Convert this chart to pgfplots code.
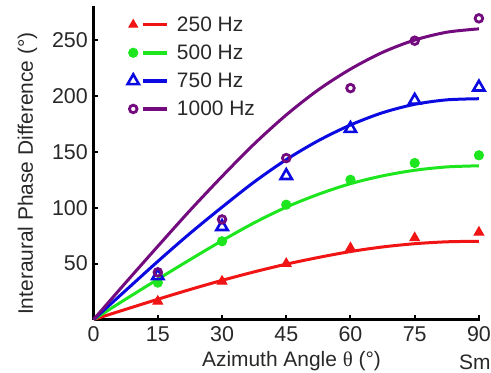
\documentclass[border=0pt]{standalone}
\usepackage{fontspec}
\setmainfont{Liberation Sans}
\newfontfamily\serifgreek{Liberation Serif}
\usepackage{pgfplots}
\pgfplotsset{compat=1.18}
\definecolor{cred}{RGB}{240,20,20}
\definecolor{cgreen}{RGB}{30,230,30}
\definecolor{cblue}{RGB}{10,10,225}
\definecolor{cpurple}{RGB}{115,10,125}
\definecolor{ctext}{RGB}{40,40,40}
\begin{document}
\begin{tikzpicture}
\begin{axis}[
  scale only axis, width=386.6bp, height=313bp,
  xmin=0, xmax=90.3, ymin=0, ymax=280,
  axis x line=bottom, axis y line=left,
  axis line style={-, line width=3bp, black},
  every outer x axis line/.append style={-},
  every outer y axis line/.append style={-},
  xtick={0,15,30,45,60,75,90}, ytick={50,100,150,200,250},
  tick align=inside, major tick length=4.5bp,
  every tick/.style={black, line width=2bp},
  /pgf/number format/assume math mode=true,
  ticklabel style={font=\fontsize{21.5}{25}\selectfont, text=ctext},
  xticklabel style={inner sep=0pt, yshift=-7bp},
  yticklabel style={inner sep=0pt, xshift=-5.6bp},
  xlabel={Azimuth Angle {\serifgreek θ} (°)},
  ylabel={Interaural Phase Difference (°)},
  label style={font=\fontsize{21}{25}\selectfont, text=ctext},
  xlabel style={at={(axis description cs:0.512,-0.1508)}, anchor=base},
  ylabel style={at={(axis description cs:-0.1568,0.466)}, anchor=base},
  clip=false,
  legend cell align=left,
  legend image code/.code={
    \draw[#1, only marks] plot coordinates {(0bp,0bp)};
    \draw[#1, mark=none, line width=3.5bp] (10bp,0bp) -- (34bp,0bp);
  },
  legend style={draw=none, fill=none, inner sep=0pt, outer sep=0pt,
    at={(axis description cs:0.088,0.974)}, anchor=north west,
    font=\fontsize{21}{25}\selectfont, text=ctext, row sep=8bp,
    /tikz/every odd column/.append style={column sep=6bp}},
]
% fitted curves
\addplot[cred, line width=3bp, smooth, forget plot] coordinates {
(0,0) (7.5,9.1) (15,18.1) (22.5,26.8) (30,35) (37.5,42.6) (45,49.5) (52.5,55.5) (60,60.8) (67.5,64.9) (75,67.8) (82.5,69.5) (90,70)};
\addplot[cgreen, line width=3bp, smooth, forget plot] coordinates {
(0,0) (7.5,18.2) (15,36) (22.5,53.5) (30,70.5) (37.5,86.5) (45,100.5) (52.5,112) (60,121.5) (67.5,128.5) (75,133.5) (82.5,136.5) (90,137.5)};
\addplot[cblue, line width=3bp, smooth, forget plot] coordinates {
(0,0) (7.5,26) (15,52) (22.5,77) (30,100.5) (37.5,123) (45,143) (52.5,160) (60,174) (67.5,185) (75,192.5) (82.5,196.5) (90,197.5)};
\addplot[cpurple, line width=3bp, smooth, forget plot] coordinates {
(0,0) (7.5,33) (15,65.5) (22.5,97.5) (30,128) (37.5,157) (45,183) (52.5,205.5) (60,224) (67.5,239) (75,250) (82.5,257) (90,260)};
% measured points
\addplot[only marks, mark=triangle*, mark size=5.5bp, mark options={draw=cred, fill=cred, line width=1bp}, forget plot] coordinates {
(15,16.3) (30,34.2) (45,50) (60,64) (75,73) (90,78)};
\addplot[only marks, mark=*, mark size=4.6bp, mark options={draw=cgreen, fill=cgreen, line width=1bp}, forget plot] coordinates {
(15,33) (30,70) (45,102.7) (60,125) (75,140) (90,146.9)};
\addplot[only marks, mark=triangle, mark size=6.5bp, mark options={draw=cblue, fill=white, line width=2.6bp}, forget plot] coordinates {
(15,39) (30,83) (45,128.6) (60,170.7) (75,196) (90,207.8)};
\addplot[only marks, mark=o, mark size=3.8bp, mark options={draw=cpurple, fill=none, line width=2.8bp}, forget plot] coordinates {
(15,42.2) (30,89.5) (45,144.4) (60,207) (75,249.4) (90,269.4)};
% legend
\addlegendimage{draw=cred, mark=triangle*, mark size=5bp, mark options={draw=cred, fill=cred, line width=1bp}}
\addlegendentry{250 Hz}
\addlegendimage{draw=cgreen, mark=*, mark size=4.6bp, mark options={draw=cgreen, fill=cgreen, line width=1bp}}
\addlegendentry{500 Hz}
\addlegendimage{draw=cblue, mark=triangle, mark size=6.5bp, mark options={draw=cblue, fill=white, line width=2.6bp}}
\addlegendentry{750 Hz}
\addlegendimage{draw=cpurple, mark=o, mark size=3.8bp, mark options={draw=cpurple, fill=none, line width=2.8bp}}
\addlegendentry{1000 Hz}
\node[anchor=base west, font=\fontsize{21}{25}\selectfont, text=ctext, inner sep=0pt] at (axis description cs:0.9452,-0.1591) {Sm};
\end{axis}
\pgfresetboundingbox
\path[use as bounding box] (-93.6bp,-53.5bp) rectangle (397.4bp,319.5bp);
\end{tikzpicture}
\end{document}
